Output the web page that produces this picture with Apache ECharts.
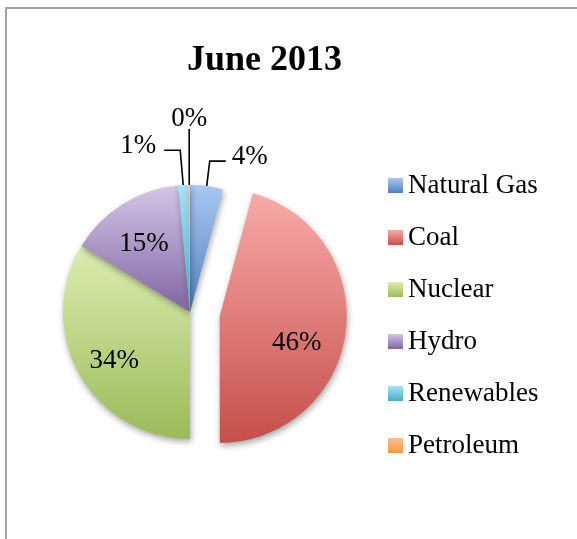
<!DOCTYPE html>
<html><head><meta charset="utf-8">
<script src="https://cdn.jsdelivr.net/npm/echarts@6/dist/echarts.min.js"></script>
<style>html,body{margin:0;padding:0;background:#fff}#c{width:577px;height:539px}</style>
</head><body><div id="c"></div>
<script>
var chartTitle = 'June 2013';
var categories = ['Natural Gas', 'Coal', 'Nuclear', 'Hydro', 'Renewables', 'Petroleum'];
var values = [4.2, 45.8, 33.7, 14.8, 1.3, 0.2];
var explodedIndex = 1;
var outsideLabelIdx = [0, 4, 5];

var topColors = ['#aac7f3', '#f8aaa8', '#dcedb0', '#d3c6e6', '#a3e4f6', '#fdc293'];
var bottomColors = ['#4f81bd', '#c54f4b', '#9bbb59', '#8064a2', '#4bacc6', '#f79646'];

var CX = 190, CY = 312, R = 127;
var FONT = '"Liberation Serif", "DejaVu Serif", serif';
var TEXT_SHIFT = 3;

function grad(i) {
  return { type: 'linear', x: 0, y: 0, x2: 0, y2: 1,
    colorStops: [{ offset: 0, color: topColors[i] }, { offset: 1, color: bottomColors[i] }] };
}

var data = categories.map(function (name, i) {
  var outside = outsideLabelIdx.indexOf(i) >= 0;
  return {
    name: name,
    value: values[i],
    selected: i === explodedIndex,
    itemStyle: { color: grad(i) },
    label: { position: outside ? 'outside' : 'inside' },
    labelLine: { show: outside }
  };
});

var chart = echarts.init(document.getElementById('c'), null, { renderer: 'canvas' });
chart.setOption({
  animation: false,
  backgroundColor: '#fff',
  graphic: [{
    type: 'rect', z: 100, silent: true,
    shape: { x: 6, y: 8, width: 700, height: 700 },
    style: { fill: 'none', stroke: '#a3a3a3', lineWidth: 2 }
  }],
  title: {
    text: chartTitle, left: 187, top: 43, padding: 0,
    textStyle: { fontFamily: FONT, fontWeight: 'bold', fontSize: 36, color: '#000' }
  },
  legend: {
    orient: 'vertical', left: 388, top: 172, padding: 0,
    itemWidth: 15, itemHeight: 15, itemGap: 25,
    icon: 'rect',
    data: categories,
    textStyle: { fontFamily: FONT, fontSize: 27, color: '#000', padding: [TEXT_SHIFT * 2, 0, 0, 0] }
  },
  series: [{
    type: 'pie',
    center: [CX, CY],
    radius: R,
    startAngle: 90,
    clockwise: true,
    selectedMode: 'single',
    selectedOffset: 30,
    avoidLabelOverlap: false,
    emphasis: { disabled: true },
    itemStyle: { shadowBlur: 6, shadowColor: 'rgba(0,0,0,0.35)', shadowOffsetX: 1, shadowOffsetY: 3 },
    label: {
      show: true, color: '#000', fontFamily: FONT, fontSize: 27,
      formatter: function (p) { return Math.round(p.percent) + '%'; }
    },
    labelLine: { show: false, length: 10, length2: 10, lineStyle: { color: '#000', width: 1.6 } },
    labelLayout: function (p) {
      var i = p.dataIndex;
      var pts = p.labelLinePoints;
      if (outsideLabelIdx.indexOf(i) < 0 || !pts) {
        var r = p.labelRect;
        var lx = r.x + r.width / 2 - CX, ly = r.y + r.height / 2 - CY;
        var len = Math.sqrt(lx * lx + ly * ly) || 1;
        var push = 0.16 * R;
        var dx = lx / len * push, dy = ly / len * push + 6;
        if (i === explodedIndex) { dx -= 9; dy += 10; }
        return { dx: dx, dy: dy };
      }
      var p0 = pts[0], p1, p2;
      if (i === 0) {
        p1 = [p0[0] + 3, p0[1] - 25]; p2 = [p1[0] + 16, p1[1]];
        return { x: p2[0] + 6, y: p1[1] - 7 + TEXT_SHIFT, align: 'left', verticalAlign: 'middle', labelLinePoints: [p0, p1, p2] };
      } else if (i === 4) {
        p1 = [p0[0] - 3, p0[1] - 35]; p2 = [p1[0] - 16, p1[1]];
        return { x: p2[0] - 8, y: p1[1] - 7 + TEXT_SHIFT, align: 'right', verticalAlign: 'middle', labelLinePoints: [p0, p1, p2] };
      } else {
        p1 = [p0[0], p0[1] - 56]; p2 = [p0[0], p0[1] - 56];
        return { x: p0[0], y: p1[1] + TEXT_SHIFT, align: 'center', verticalAlign: 'bottom', labelLinePoints: [p0, p1, p2] };
      }
    },
    data: data
  }]
});
</script></body></html>
